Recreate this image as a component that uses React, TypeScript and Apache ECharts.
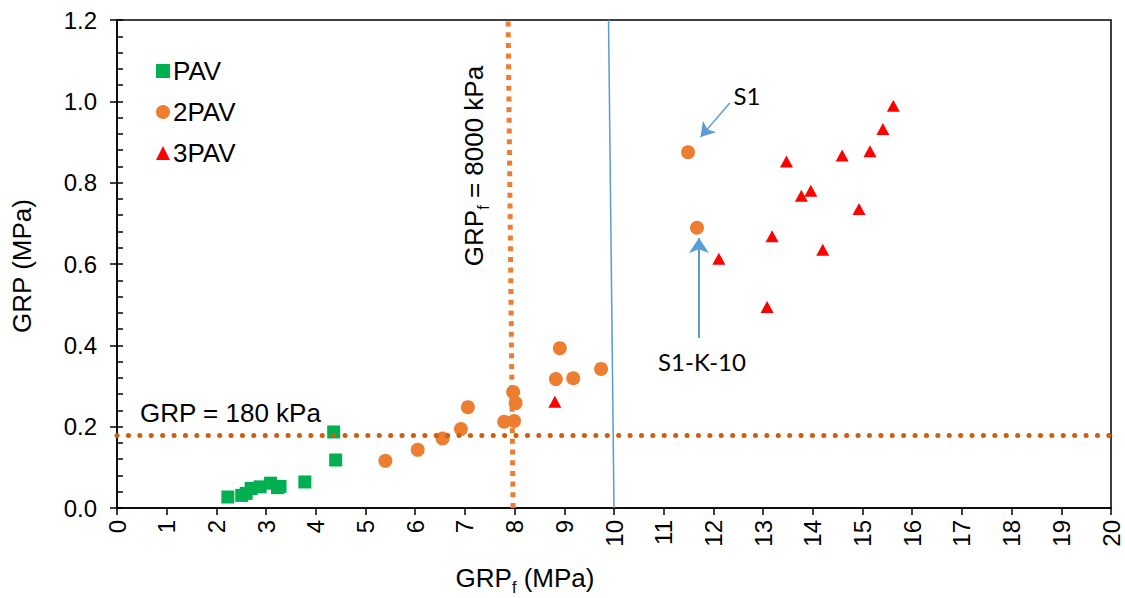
import React, { useEffect, useRef } from "react";
import * as echarts from "echarts";

// PAV-aged binders
const pavX = [2.23, 2.51, 2.6, 2.7, 2.88, 3.09, 3.23, 3.28, 3.78, 4.36, 4.4];
const pavY = [0.027, 0.031, 0.036, 0.048, 0.052, 0.061, 0.05, 0.053, 0.064, 0.187, 0.118];

// 2PAV-aged binders
const pav2X = [5.4, 6.05, 6.55, 6.92, 7.06, 7.79, 7.99, 7.97, 8.02, 8.83, 8.91, 9.18, 9.74, 11.49, 11.67];
const pav2Y = [0.116, 0.143, 0.171, 0.194, 0.248, 0.212, 0.214, 0.285, 0.258, 0.317, 0.393, 0.319, 0.342, 0.875, 0.689];

// 3PAV-aged binders
const pav3X = [8.81, 12.11, 13.08, 13.18, 13.47, 13.77, 13.96, 14.2, 14.59, 14.93, 15.15, 15.41, 15.62];
const pav3Y = [0.261, 0.613, 0.494, 0.668, 0.852, 0.768, 0.78, 0.635, 0.867, 0.735, 0.877, 0.932, 0.989];

// thresholds
const grpLimit = 0.18; // MPa
const grpfLimit = 8; // MPa

const xTicks = { min: 0, max: 20, interval: 1 };
const yTicks = { min: 0, max: 1.2, interval: 0.2, minor: 0.04 };

const AX_FONT = "'Liberation Sans', Arial, sans-serif";
const NOTE_FONT = "Lato, 'Open Sans', sans-serif";

const zip = (xs: number[], ys: number[]) => xs.map((x, i) => [x, ys[i]]);

// main text raised a little so the small "f" sits below its baseline
const subRich = {
  a: { fontFamily: AX_FONT, fontSize: 26, fill: "#000", verticalAlign: "bottom", padding: [0, 0, 4, 0] },
  b: { fontFamily: AX_FONT, fontSize: 16, fill: "#000", verticalAlign: "bottom" },
};

export default function App() {
  const ref = useRef<HTMLDivElement>(null);

  useEffect(() => {
    if (!ref.current) return;
    const chart = echarts.init(ref.current, undefined, { renderer: "svg" });

    const option: any = {
      animation: false,
      backgroundColor: "#fff",
      grid: {
        left: 117,
        top: 20,
        right: 14,
        bottom: 90,
        show: true,
        borderColor: "#000",
        borderWidth: 1.5,
      },
      legend: {
        orient: "vertical",
        left: 151,
        top: 53,
        itemWidth: 14,
        itemHeight: 14,
        itemGap: 15,
        data: ["PAV", "2PAV", "3PAV"],
        textStyle: { fontFamily: AX_FONT, fontSize: 26, color: "#000", padding: [0, 0, 0, -2] },
      },
      xAxis: {
        type: "value",
        min: xTicks.min,
        max: xTicks.max,
        interval: xTicks.interval,
        axisLine: { show: true, onZero: false, lineStyle: { color: "#000", width: 1.5 } },
        axisTick: { show: true, length: 7, lineStyle: { color: "#000", width: 1.5 } },
        splitLine: { show: false },
        axisLabel: {
          rotate: 90,
          margin: 12,
          fontFamily: AX_FONT,
          fontSize: 24,
          color: "#000",
        },
      },
      yAxis: [
        {
          type: "value",
          position: "left",
          min: yTicks.min,
          max: yTicks.max,
          interval: yTicks.interval,
          axisLine: { show: true, onZero: false, lineStyle: { color: "#000", width: 1.5 } },
          axisTick: { show: true, length: 7, lineStyle: { color: "#000", width: 1.5 } },
          splitLine: { show: false },
          axisLabel: {
            margin: 20,
            fontFamily: AX_FONT,
            fontSize: 24,
            color: "#000",
            formatter: (v: number) => v.toFixed(1),
          },
        },
        {
          // inward minor ticks
          type: "value",
          position: "left",
          offset: 0,
          min: yTicks.min,
          max: yTicks.max,
          interval: yTicks.minor,
          axisLine: { show: false },
          axisTick: { show: true, inside: true, length: 6, lineStyle: { color: "#000", width: 1.5 } },
          axisLabel: { show: false },
          splitLine: { show: false },
        },
      ],
      series: [
        {
          name: "guides",
          type: "scatter",
          data: [],
          silent: true,
          markLine: {
            silent: true,
            animation: false,
            symbol: ["none", "none"],
            label: { show: false },
            emphasis: { disabled: true },
            data: [
              [
                { coord: [xTicks.min, grpLimit], lineStyle: { color: "#CC6010", width: 5, type: [0.1, 11.3], cap: "round" } },
                { coord: [xTicks.max, grpLimit] },
              ],
              [
                { coord: [grpfLimit - 0.03, 0], lineStyle: { color: "#ED7D31", width: 5, type: [5, 5.7], cap: "butt" } },
                { coord: [grpfLimit - 0.13, 1.2] },
              ],
              [
                { coord: [10, 0], lineStyle: { color: "#5B9BD5", width: 1.5, type: "solid" } },
                { coord: [9.89, 1.2] },
              ],
              [
                { coord: [12.33, 0.996], symbol: "none", lineStyle: { color: "#5B9BD5", width: 1.5, type: "solid" } },
                { coord: [11.74, 0.912], symbol: "arrow", symbolSize: [13, 14] },
              ],
              [
                { coord: [11.71, 0.418], symbol: "none", lineStyle: { color: "#5B9BD5", width: 2, type: "solid" } },
                { coord: [11.71, 0.664], symbol: "arrow", symbolSize: [15, 15] },
              ],
            ],
          },
        },
        {
          name: "PAV",
          type: "scatter",
          symbol: "rect",
          symbolSize: 13,
          itemStyle: { color: "#00B050", opacity: 1 },
          data: zip(pavX, pavY),
        },
        {
          name: "2PAV",
          type: "scatter",
          symbol: "circle",
          symbolSize: 14,
          itemStyle: { color: "#ED7D31", opacity: 1 },
          data: zip(pav2X, pav2Y),
        },
        {
          name: "3PAV",
          type: "scatter",
          symbol: "triangle",
          symbolSize: [13, 12],
          itemStyle: { color: "#FF0000", opacity: 1 },
          data: zip(pav3X, pav3Y),
        },
      ],
      graphic: [
        {
          type: "text",
          left: 140,
          top: 400,
          style: { text: "GRP = 180 kPa", fontFamily: AX_FONT, fontSize: 26, fill: "#000" },
        },
        {
          type: "text",
          x: 476,
          y: 166,
          rotation: Math.PI / 2,
          style: {
            text: "{a|GRP}{b|f}{a| = 8000 kPa}",
            align: "center",
            verticalAlign: "middle",
            rich: subRich,
          },
        },
        {
          type: "text",
          x: 747,
          y: 95,
          style: { text: "S1", align: "center", verticalAlign: "middle", fontFamily: NOTE_FONT, fontSize: 24, fill: "#000" },
        },
        {
          type: "text",
          x: 702,
          y: 361,
          style: { text: "S1-K-10", align: "center", verticalAlign: "middle", fontFamily: NOTE_FONT, fontSize: 24, fill: "#000" },
        },
        {
          type: "text",
          x: 525,
          y: 580,
          style: {
            text: "{a|GRP}{b|f}{a| (MPa)}",
            align: "center",
            verticalAlign: "middle",
            rich: subRich,
          },
        },
        {
          type: "text",
          x: 22,
          y: 266,
          rotation: Math.PI / 2,
          style: {
            text: "GRP (MPa)",
            align: "center",
            verticalAlign: "middle",
            fontFamily: AX_FONT,
            fontSize: 26,
            fill: "#000",
          },
        },
      ],
    };

    chart.setOption(option);
    return () => chart.dispose();
  }, []);

  return (
    <div
      ref={ref}
      style={{ position: "absolute", left: 0, top: 0, width: 1125, height: 598, background: "#fff" }}
    />
  );
}
